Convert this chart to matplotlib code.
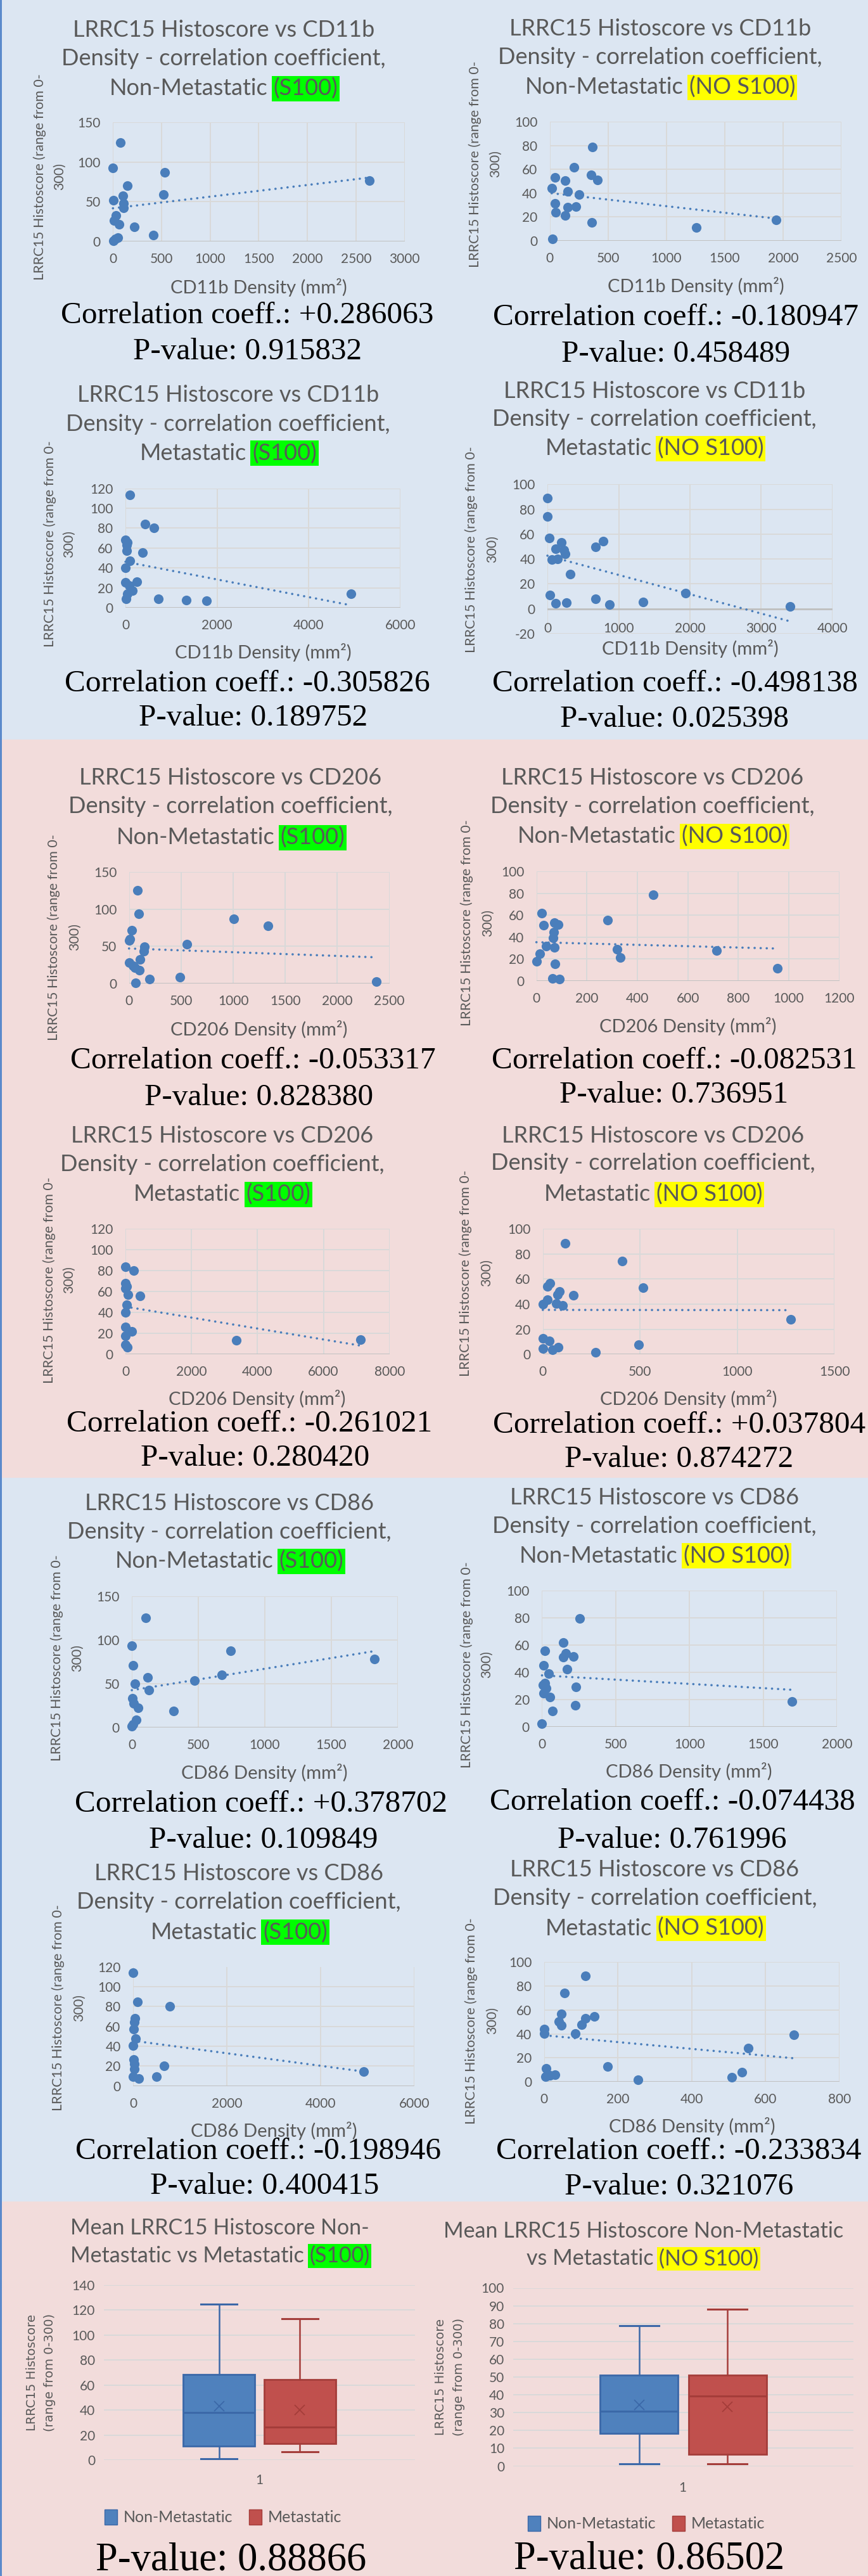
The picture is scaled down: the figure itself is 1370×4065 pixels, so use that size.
import matplotlib
matplotlib.use('Agg')
import matplotlib.pyplot as plt
import numpy as np
from matplotlib.patches import Rectangle, Patch

# ---------------- DATA ----------------
# CD11b
cd11b_nm_s100_x = [77, 0, 532, 148, 2639, 6, 100, 518, 111, 111, 34, 11, 63, 219, 416, 48, 6, 28]
cd11b_nm_s100_y = [124.6, 92.7, 86.8, 70.3, 76.8, 52, 57.3, 59, 47.8, 42, 33, 26.6, 21.8, 18.3, 8.3, 4.4, 0.6, 3]
cd11b_nm_nos100_x = [365, 206, 353, 408, 47, 135, 17, 152, 251, 43, 152, 225, 52, 135, 360, 1257, 1943, 24]
cd11b_nm_nos100_y = [78.9, 61.9, 55.6, 51.1, 53.3, 50.7, 44.4, 41.8, 38.9, 31.4, 28, 28.8, 23.9, 21.3, 15.4, 11, 17.6, 1.8]
cd11b_m_s100_x = [103, 423, 622, 0, 42, 24, 24, 368, 103, 0, 0, 247, 78, 151, 42, 12, 712, 1328, 1775, 4920]
cd11b_m_s100_y = [113.3, 83.8, 80.2, 68.2, 65.8, 62.9, 57.4, 55.4, 47.3, 40.1, 25.7, 26.2, 22.1, 17.3, 13.7, 8.9, 8.9, 7.4, 6.7, 13.9]
cd11b_m_nos100_x = [4, 0, 31, 194, 781, 672, 117, 233, 252, 62, 144, 318, 39, 117, 264, 676, 870, 1340, 1942, 3402]
cd11b_m_nos100_y = [88.7, 74.1, 56.7, 53.3, 54.4, 50, 48.3, 47.3, 43.9, 39.5, 40.2, 28, 10.9, 4.2, 5, 8, 3.6, 5.6, 12.8, 1.7]
# CD206
cd206_nm_s100_x = [80, 93, 1004, 1336, 29, 11, 0, 558, 146, 143, 106, 0, 37, 56, 98, 197, 486, 61, 2372]
cd206_nm_s100_y = [125.1, 93.5, 87.1, 77.9, 71.2, 60, 57.8, 53, 49.8, 43.4, 32.9, 28.1, 24.3, 21.7, 18.5, 6.1, 8.6, 1, 3.2]
cd206_nm_nos100_x = [462, 21, 282, 29, 71, 86, 69, 67, 38, 71, 319, 332, 714, 13, 0, 75, 955, 63, 91]
cd206_nm_nos100_y = [78.6, 61.6, 55.7, 50.9, 53.1, 51.1, 44.5, 38.9, 31.4, 30.3, 28.6, 21.4, 27.7, 24.5, 17.9, 15.5, 11.1, 2.2, 1.3]
cd206_m_s100_x = [0, 252, 0, 42, 0, 84, 444, 34, 0, 0, 184, 0, 0, 50, 3354, 7128]
cd206_m_s100_y = [83.8, 80.1, 68, 65.2, 63.4, 57.3, 55.9, 47.4, 39.9, 26.2, 21.8, 17.6, 9.3, 7, 13.2, 13.9]
cd206_m_nos100_x = [115, 407, 37, 24, 515, 85, 75, 158, 24, 0, 68, 102, 1275, 0, 33, 0, 50, 78, 273, 494]
cd206_m_nos100_y = [88.4, 74.1, 56.6, 54.1, 52.9, 49.8, 47.5, 47.1, 43.6, 40, 40.5, 39, 27.8, 12.9, 10.6, 4.4, 3.5, 5.4, 1.5, 7.7]
# CD86
cd86_nm_s100_x = [104, 0, 741, 1825, 10, 121, 676, 472, 23, 131, 6, 15, 50, 314, 33, 8, 2]
cd86_nm_s100_y = [124.9, 93.3, 87.3, 77.7, 70.9, 57.3, 59.5, 53.2, 49.4, 42.3, 33.3, 27.5, 22.4, 18.8, 8.7, 3.5, 0.8]
cd86_nm_nos100_x = [257, 146, 19, 163, 143, 214, 13, 169, 47, 21, 6, 30, 231, 13, 56, 225, 71, 0, 1696]
cd86_nm_nos100_y = [79.2, 61.9, 55.9, 53.8, 50.9, 51.4, 44.8, 42, 39, 32, 30.8, 28.1, 29, 24.7, 21.7, 15.9, 11.4, 2.4, 18.4]
cd86_m_s100_x = [6, 100, 780, 41, 30, 12, 53, 0, 18, 30, 656, 30, 0, 124, 502, 4925]
cd86_m_s100_y = [113.8, 84.5, 80.4, 67.9, 64.3, 57.1, 47.5, 40.3, 26.6, 22.3, 19.9, 17, 9.1, 7.2, 9.1, 14.4]
cd86_m_nos100_x = [111, 55, 46, 135, 112, 40, 46, 101, 1, 1, 85, 676, 552, 172, 5, 29, 4, 15, 254, 508, 535]
cd86_m_nos100_y = [88.4, 74.1, 56.5, 54.5, 52.9, 50.1, 46.9, 47.7, 44.1, 40.1, 40.5, 39.3, 27.9, 12.8, 11, 6, 4.4, 5.2, 1.8, 3.8, 7.8]

corr_values = ['+0.286063', '-0.180947', '-0.305826', '-0.498138',
               '-0.053317', '-0.082531', '-0.261021', '+0.037804',
               '+0.378702', '-0.074438', '-0.198946', '-0.233834']
p_values = ['0.915832', '0.458489', '0.189752', '0.025398',
            '0.828380', '0.736951', '0.280420', '0.874272',
            '0.109849', '0.761996', '0.400415', '0.321076']

markers = ['CD11b', 'CD11b', 'CD11b', 'CD11b', 'CD206', 'CD206', 'CD206', 'CD206',
           'CD86', 'CD86', 'CD86', 'CD86']
groups = ['Non-Metastatic', 'Non-Metastatic', 'Metastatic', 'Metastatic'] * 3
tags = ['(S100)', '(NO S100)'] * 6

x_ticks = [
    [0, 500, 1000, 1500, 2000, 2500, 3000],
    [0, 500, 1000, 1500, 2000, 2500],
    [0, 2000, 4000, 6000],
    [0, 1000, 2000, 3000, 4000],
    [0, 500, 1000, 1500, 2000, 2500],
    [0, 200, 400, 600, 800, 1000, 1200],
    [0, 2000, 4000, 6000, 8000],
    [0, 500, 1000, 1500],
    [0, 500, 1000, 1500, 2000],
    [0, 500, 1000, 1500, 2000],
    [0, 2000, 4000, 6000],
    [0, 200, 400, 600, 800],
]
y_ticks = [
    [0, 50, 100, 150],
    [0, 20, 40, 60, 80, 100],
    [0, 20, 40, 60, 80, 100, 120],
    [-20, 0, 20, 40, 60, 80, 100],
    [0, 50, 100, 150],
    [0, 20, 40, 60, 80, 100],
    [0, 20, 40, 60, 80, 100, 120],
    [0, 20, 40, 60, 80, 100],
    [0, 50, 100, 150],
    [0, 20, 40, 60, 80, 100],
    [0, 20, 40, 60, 80, 100, 120],
    [0, 20, 40, 60, 80, 100],
]

# Box plot summary values (LRRC15 histoscore)
box_groups = ['Non-Metastatic', 'Metastatic']
box_s100_q1 = [11.3, 13.2]
box_s100_median = [38.1, 26.2]
box_s100_q3 = [68.7, 64.5]
box_s100_low = [0.8, 6.5]
box_s100_high = [124.9, 113.2]
box_s100_mean = [43.0, 40.2]
box_nos100_q1 = [18.5, 6.7]
box_nos100_median = [30.8, 39.5]
box_nos100_q3 = [51.1, 51.1]
box_nos100_low = [1.3, 1.3]
box_nos100_high = [78.8, 88.1]
box_nos100_mean = [34.2, 33.2]
box_yticks_s100 = [0, 20, 40, 60, 80, 100, 120, 140]
box_yticks_nos100 = [0, 10, 20, 30, 40, 50, 60, 70, 80, 90, 100]
box_p_values = ['0.88866', '0.86502']

scatter_x = [cd11b_nm_s100_x, cd11b_nm_nos100_x, cd11b_m_s100_x, cd11b_m_nos100_x,
             cd206_nm_s100_x, cd206_nm_nos100_x, cd206_m_s100_x, cd206_m_nos100_x,
             cd86_nm_s100_x, cd86_nm_nos100_x, cd86_m_s100_x, cd86_m_nos100_x]
scatter_y = [cd11b_nm_s100_y, cd11b_nm_nos100_y, cd11b_m_s100_y, cd11b_m_nos100_y,
             cd206_nm_s100_y, cd206_nm_nos100_y, cd206_m_s100_y, cd206_m_nos100_y,
             cd86_nm_s100_y, cd86_nm_nos100_y, cd86_m_s100_y, cd86_m_nos100_y]

# ---------------- LAYOUT (pixels) ----------------
W, H = 1370, 4065
DPI = 100
SANS = ['Lato', 'DejaVu Sans']
SERIF = ['Liberation Serif', 'DejaVu Serif']
GRAY = '#595959'
PT_BLUE = '#4A7EBB'
BG_BLUE = '#DCE6F2'
BG_PINK = '#F2DCDB'
HL = {'(S100)': '#00FF00', '(NO S100)': '#FFFF00'}

layout = [
    dict(ax=(178.2, 193, 638.7, 381), tc=353, ty=(48, 92.5, 140), xl=(408, 453), yl=(63, 94, 279), cr=(390, 497.6), pv=(391, 555)),
    dict(ax=(867.6, 192.4, 1328, 380), tc=1042, ty=(46, 90.6, 137.6), xl=(1098, 452), yl=(750, 782, 259), cr=(1066, 501), pv=(1067, 558.6)),
    dict(ax=(198, 770.7, 632, 958.9), tc=360, ty=(623, 669, 715.4), xl=(415, 1029.6), yl=(79, 109, 858), cr=(390, 1078.5), pv=(400, 1133)),
    dict(ax=(864, 764.3, 1314, 1000), tc=1033, ty=(617.6, 661, 708), xl=(1089, 1024), yl=(744, 777, 867), cr=(1065, 1078.5), pv=(1065, 1135)),
    dict(ax=(203.6, 1375.6, 614.7, 1552.4), tc=364, ty=(1227.7, 1272.9, 1321.8), xl=(408.5, 1624.6), yl=(85, 118, 1479), cr=(399, 1673.5), pv=(408.5, 1731.9)),
    dict(ax=(846.6, 1375.2, 1324.6, 1547.5), tc=1030, ty=(1227.7, 1272.9, 1319.9), xl=(1085.6, 1619.7), yl=(737, 770, 1456), cr=(1064, 1673.5), pv=(1064, 1728)),
    dict(ax=(198, 1939.4, 614.7, 2137.2), tc=350.6, ty=(1792.8, 1837.6, 1884.7), xl=(406, 2207.7), yl=(78, 109, 2020), cr=(394, 2247), pv=(403, 2300.7)),
    dict(ax=(856.7, 1939, 1317.1, 2137.2), tc=1031, ty=(1792.8, 1835.7, 1884.7), xl=(1087, 2207.7), yl=(735, 768, 2009), cr=(1071.6, 2249), pv=(1071.6, 2302.6)),
    dict(ax=(208, 2518.6, 627.8, 2725.6), tc=362, ty=(2372.7, 2417, 2464), xl=(417.6, 2797), yl=(89.6, 121.5, 2616), cr=(412, 2846.7), pv=(416, 2904)),
    dict(ax=(855.4, 2509.6, 1321, 2724.8), tc=1032.8, ty=(2363, 2408.4, 2455.4), xl=(1087, 2796), yl=(736.5, 768, 2627), cr=(1061.8, 2843.7), pv=(1061, 2904)),
    dict(ax=(210, 3103.5, 654, 3291.6), tc=377, ty=(2956.4, 3001.6, 3049.4), xl=(432.5, 3362.8), yl=(92, 124.5, 3168), cr=(408, 3394.7), pv=(417.6, 3450)),
    dict(ax=(858.9, 3096.4, 1325, 3284.9), tc=1033.4, ty=(2950.8, 2996, 3043), xl=(1092, 3356), yl=(744, 777, 3189), cr=(1071.6, 3394.7), pv=(1071.6, 3451)),
]

bands = [(0, 1167, BG_BLUE), (1167, 2332, BG_PINK), (2332, 3474, BG_BLUE), (3474, H, BG_PINK)]

TITLE_FS = 26
TICK_FS = 15
XLABEL_FS = 21
YLABEL_FS = 15.5
STAT_FS = 35.5


def fx(x):
    return x / W


def fy(y):
    return 1 - y / H


fig = plt.figure(figsize=(W / DPI, H / DPI), dpi=DPI)
renderer = fig.canvas.get_renderer()

for y0, y1, c in bands:
    fig.patches.append(Rectangle((0, fy(y1)), 1, (y1 - y0) / H, transform=fig.transFigure,
                                 facecolor=c, edgecolor='none', zorder=-10))
fig.patches.append(Rectangle((0, 0), 2.5 / W, 1, transform=fig.transFigure,
                             facecolor='#5B8ACB', edgecolor='none', zorder=-9))


def plain_line(cx, y, text, fs=TITLE_FS):
    fig.text(fx(cx), fy(y), text, ha='center', va='center', fontsize=fs, color=GRAY, family=SANS)


def hl_line(cx, y, prefix, tag, fs=TITLE_FS):
    t1 = fig.text(0, fy(y), prefix, ha='left', va='center', fontsize=fs, color=GRAY, family=SANS)
    t2 = fig.text(0, fy(y), tag, ha='left', va='center', fontsize=fs, color=GRAY, family=SANS,
                  bbox=dict(facecolor=HL[tag], edgecolor='none', boxstyle='square,pad=0.08'))
    w1 = t1.get_window_extent(renderer).width
    w2 = t2.get_window_extent(renderer).width
    sp = 0.26 * fs * DPI / 72
    start = cx - (w1 + sp + w2) / 2
    t1.set_x(fx(start))
    t2.set_x(fx(start + w1 + sp))


for i in range(12):
    L = layout[i]
    x0, y0, x1, y1 = L['ax']
    ax = fig.add_axes([fx(x0), fy(y1), (x1 - x0) / W, (y1 - y0) / H])
    ax.set_facecolor('none')
    xt, yt = x_ticks[i], y_ticks[i]
    ax.set_xlim(xt[0], xt[-1])
    ax.set_ylim(yt[0], yt[-1])
    ax.set_xticks(xt)
    ax.set_yticks(yt)
    ax.set_xticklabels([str(v) for v in xt], family=SANS)
    ax.set_yticklabels([str(v) for v in yt], family=SANS)
    for s in ax.spines.values():
        s.set_visible(False)
    ax.grid(True, color='#D9D9D9', lw=1.4)
    ax.set_axisbelow(True)
    ax.axhline(0, color='#BFBFBF', lw=2.0, zorder=1.5)
    ax.tick_params(length=0, labelsize=TICK_FS, labelcolor=GRAY)
    # when the value axis goes below zero, the category labels sit inside the lowest band
    ax.tick_params(axis='x', pad=(13 if yt[0] >= 0 else -13))
    ax.tick_params(axis='y', pad=14)
    xs = np.array(scatter_x[i], dtype=float)
    ys = np.array(scatter_y[i], dtype=float)
    ax.scatter(xs, ys, s=120, color=PT_BLUE, zorder=3, clip_on=False, linewidths=0)
    coef = np.polyfit(xs, ys, 1)
    xx = np.array([xs.min(), xs.max()])
    ax.plot(xx, np.polyval(coef, xx), color=PT_BLUE, lw=2.6, linestyle=(0, (0.05, 2.6)),
            dash_capstyle='round', zorder=2.5, clip_on=False)

    plain_line(L['tc'], L['ty'][0], 'LRRC15 Histoscore vs ' + markers[i])
    plain_line(L['tc'], L['ty'][1], 'Density - correlation coefficient,')
    hl_line(L['tc'], L['ty'][2], groups[i], tags[i])
    fig.text(fx(L['xl'][0]), fy(L['xl'][1]), markers[i] + ' Density (mm²)', ha='center', va='center',
             fontsize=XLABEL_FS, color=GRAY, family=SANS)
    fig.text(fx(L['yl'][0]), fy(L['yl'][2]), 'LRRC15 Histoscore (range from 0-', ha='center', va='center',
             rotation=90, fontsize=YLABEL_FS, color=GRAY, family=SANS)
    fig.text(fx(L['yl'][1]), fy(L['yl'][2]), '300)', ha='center', va='center',
             rotation=90, fontsize=YLABEL_FS, color=GRAY, family=SANS)
    fig.text(fx(L['cr'][0]), fy(L['cr'][1]), 'Correlation coeff.: ' + corr_values[i], ha='center', va='center',
             fontsize=STAT_FS, color='black', family=SERIF)
    fig.text(fx(L['pv'][0]), fy(L['pv'][1]), 'P-value: ' + p_values[i], ha='center', va='center',
             fontsize=STAT_FS, color='black', family=SERIF)

# ---------------- BOX PLOTS ----------------
box_layout = [
    dict(ax=(164, 3606, 655, 3882), t1=(347, 3516, 'Mean LRRC15 Histoscore Non-'),
         t2=(347, 3560, 'Metastatic vs Metastatic'), yl=(51, 79, 3743.5), one=(409, 3914),
         leg=(352, 3972), pv=(365, 4041)),
    dict(ax=(810, 3610.5, 1347, 3891.6), t1=(1016, 3521, 'Mean LRRC15 Histoscore Non-Metastatic'),
         t2=(1014, 3564.5, 'vs Metastatic'), yl=(696, 725, 3751), one=(1077, 3925.6),
         leg=(1020, 3982), pv=(1024.5, 4039)),
]
box_sets = [
    (box_s100_q1, box_s100_median, box_s100_q3, box_s100_low, box_s100_high, box_s100_mean, box_yticks_s100, '(S100)'),
    (box_nos100_q1, box_nos100_median, box_nos100_q3, box_nos100_low, box_nos100_high, box_nos100_mean, box_yticks_nos100, '(NO S100)'),
]
box_colors = ['#4F81BD', '#C0504D']
box_edges = ['#3B68A8', '#A43D3A']

for j in range(2):
    L = box_layout[j]
    q1, med, q3, lo, hi, mn, yt, tag = box_sets[j]
    x0, y0, x1, y1 = L['ax']
    ax = fig.add_axes([fx(x0), fy(y1), (x1 - x0) / W, (y1 - y0) / H])
    ax.set_facecolor('none')
    stats = []
    for k in range(2):
        stats.append(dict(q1=q1[k], med=med[k], q3=q3[k], whislo=lo[k], whishi=hi[k], mean=mn[k],
                          fliers=[], label=box_groups[k]))
    bp = ax.bxp(stats, positions=[0.87, 1.13], widths=0.23, patch_artist=True, showmeans=True,
                showcaps=True)
    for k in range(2):
        b = bp['boxes'][k]
        b.set_facecolor(box_colors[k])
        b.set_edgecolor(box_edges[k])
        b.set_linewidth(2)
        bp['medians'][k].set_color(box_edges[k])
        bp['medians'][k].set_linewidth(2.2)
        m = bp['means'][k]
        m.set_marker('x')
        m.set_markeredgecolor(box_edges[k])
        m.set_markerfacecolor(box_edges[k])
        m.set_markersize(11)
        m.set_markeredgewidth(1.3)
        for w in bp['whiskers'][2 * k:2 * k + 2]:
            w.set_color(box_edges[k])
            w.set_linewidth(1.8)
        for c in bp['caps'][2 * k:2 * k + 2]:
            c.set_color(box_edges[k])
            c.set_linewidth(2.2)
    ax.set_xlim(0.5, 1.5)
    ax.set_ylim(yt[0], yt[-1])
    ax.set_yticks(yt)
    ax.set_yticklabels([str(v) for v in yt], family=SANS)
    ax.set_xticks([])
    for s in ax.spines.values():
        s.set_visible(False)
    ax.grid(True, axis='y', color='#D9D9D9', lw=1.4)
    ax.set_axisbelow(True)
    ax.tick_params(length=0, labelsize=15, labelcolor=GRAY, pad=10)
    fig.text(fx(L['one'][0]), fy(L['one'][1]), '1', ha='center', va='center', fontsize=15, color=GRAY,
             family=SANS)
    plain_line(L['t1'][0], L['t1'][1], L['t1'][2], fs=24.5)
    hl_line(L['t2'][0], L['t2'][1], L['t2'][2], tag, fs=24.5)
    fig.text(fx(L['yl'][0]), fy(L['yl'][2]), 'LRRC15 Histoscore', ha='center', va='center',
             rotation=90, fontsize=14, color=GRAY, family=['DejaVu Sans'])
    fig.text(fx(L['yl'][1]), fy(L['yl'][2]), '(range from 0-300)', ha='center', va='center',
             rotation=90, fontsize=14, color=GRAY, family=['DejaVu Sans'])
    handles = [Patch(facecolor=box_colors[k], edgecolor=box_edges[k], label=box_groups[k]) for k in range(2)]
    fig.legend(handles=handles, loc='center', bbox_to_anchor=(fx(L['leg'][0]), fy(L['leg'][1])), ncol=2,
               frameon=False, prop=dict(family=SANS, size=18), labelcolor=GRAY, handlelength=0.8,
               handleheight=1.1, columnspacing=1.0, handletextpad=0.4)
    fig.text(fx(L['pv'][0]), fy(L['pv'][1]), 'P-value: ' + box_p_values[j], ha='center', va='center',
             fontsize=45, color='black', family=SERIF)

fig.savefig('out.png', dpi=DPI)
